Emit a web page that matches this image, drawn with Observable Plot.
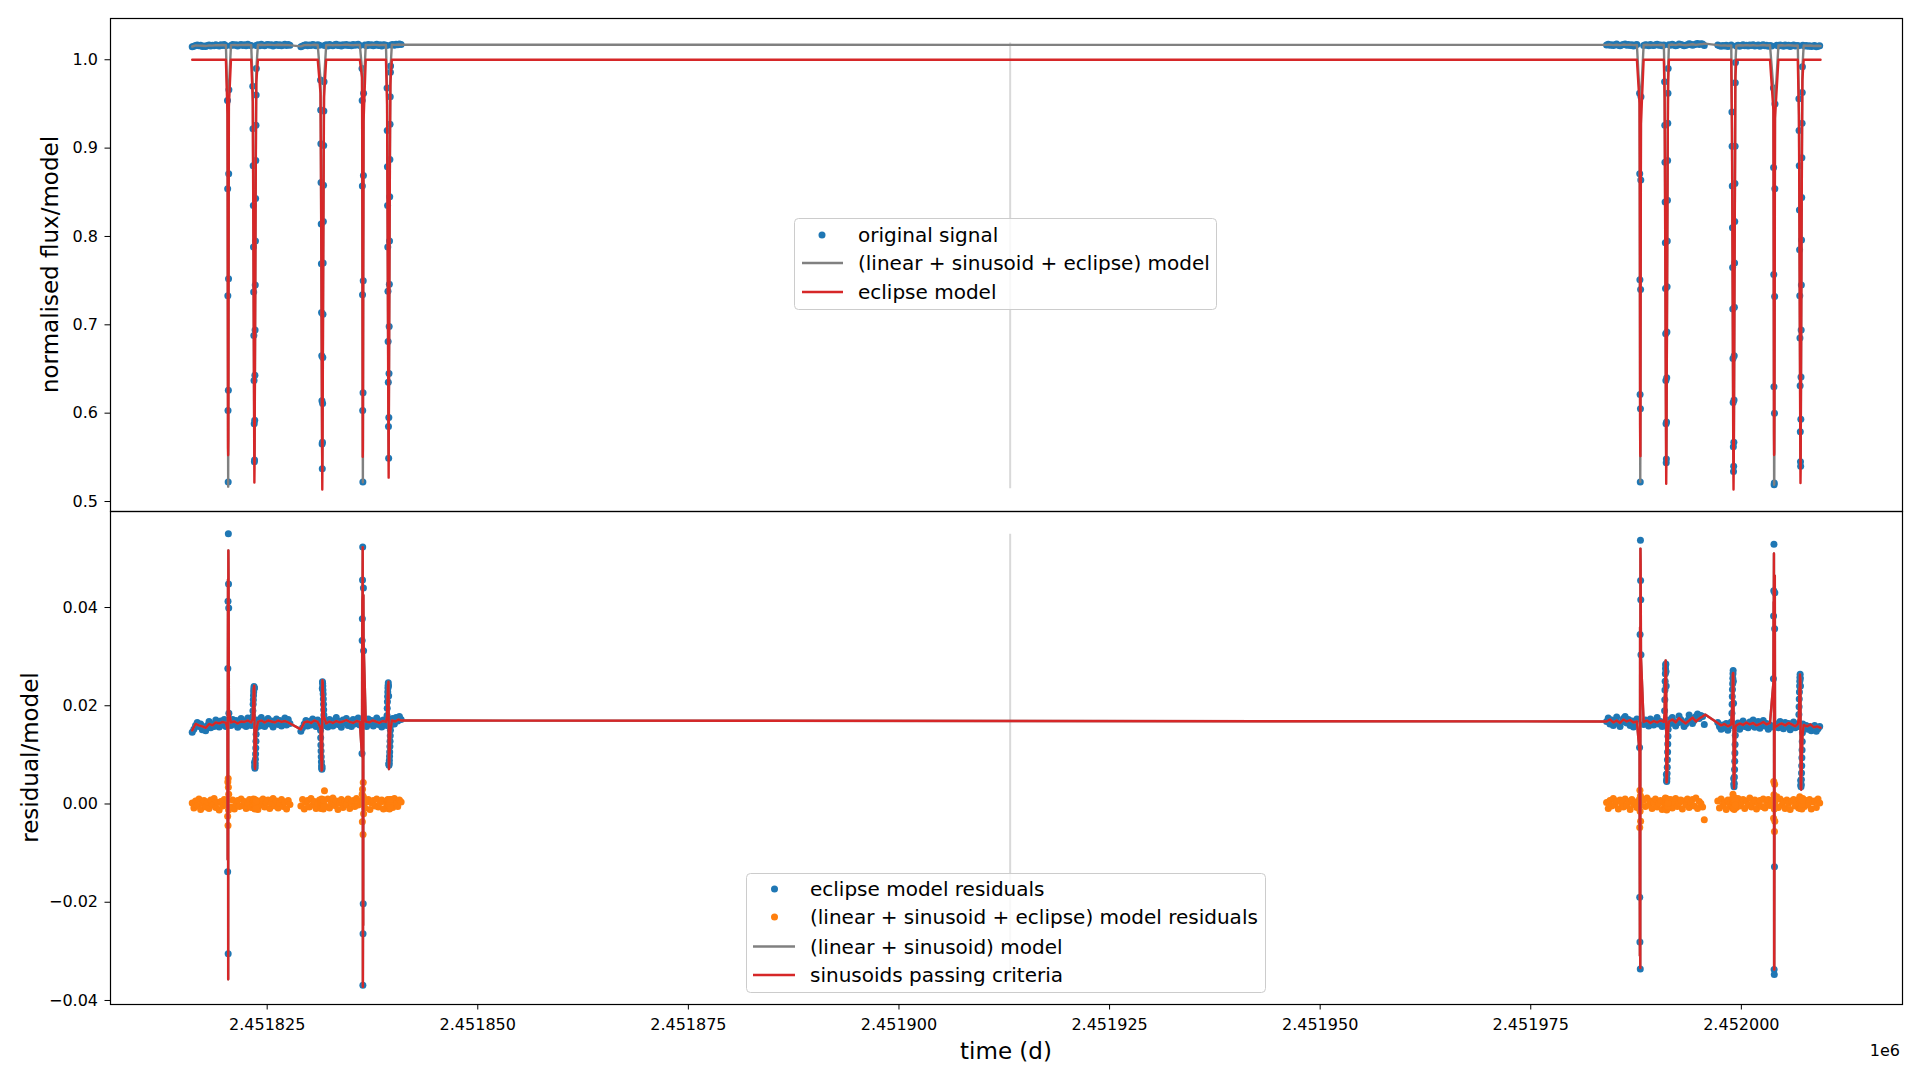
<!DOCTYPE html>
<html>
<head>
<meta charset="utf-8">
<script src="https://cdn.jsdelivr.net/npm/d3@7"></script>
<script src="https://cdn.jsdelivr.net/npm/@observablehq/plot@0.6"></script>
<style>
html, body { margin: 0; padding: 0; background: #fff; overflow: hidden; }
#wrap { position: relative; width: 1920px; height: 1080px; font-family: "DejaVu Sans", sans-serif; }
#topPanel { position: absolute; left: 0; top: 0; }
#bottomPanel { position: absolute; left: 0; top: 511px; }
#overlay { position: absolute; left: 0; top: 0; pointer-events: none; }
</style>
</head>
<body>
<div id="wrap">
  <div id="topPanel"></div>
  <div id="bottomPanel"></div>
  <svg id="overlay" width="1920" height="1080" font-family="DejaVu Sans, sans-serif"></svg>
</div>
<script>
// ---------------- DATA ----------------
const T0 = 2451800;                 // time offset (d); all times below are relative to it
const ECLIPSE_BASELINE = 1.0;       // eclipse model out of eclipse
const xTicks = [2451825, 2451850, 2451875, 2451900, 2451925, 2451950, 2451975, 2452000];
const yTicksTop = [0.5, 0.6, 0.7, 0.8, 0.9, 1.0];
const yTicksBottom = [-0.04, -0.02, 0, 0.02, 0.04];
const midTime = 2451913.2;
const topRuleSpan = [0.5145, 1.019];
const bottomRuleSpan = [-0.0363, 0.0549];

// out-of-eclipse samples: time, eclipse-model residual (blue), full-model residual (orange)
const seg1aTime = [16.1,16.3,16.5,16.7,16.9,17.1,17.3,17.5,17.7,17.9,18.1,18.3,18.5,18.7,18.9,19.1,19.3,19.5,19.7,19.9,20.1,
  20.7,20.9,21.1,21.3,21.5,21.7,21.9,22.1,22.3,22.5,22.7,22.9,23.1,
  23.7,23.9,24.1,24.3,24.5,24.7,24.9,25.1,25.3,25.5,25.7,25.9,26.1,26.3,26.5,26.7,26.9,27.1,27.3,27.5,27.7];
const seg1aBlue = [0.0146,0.0152,0.0160,0.0166,0.0158,0.0163,0.0151,0.0157,0.0149,0.0160,0.0168,0.0155,0.0163,0.0158,0.0171,0.0162,0.0157,0.0169,0.0161,0.0172,0.0158,
  0.0160,0.0172,0.0163,0.0170,0.0156,0.0166,0.0174,0.0161,0.0169,0.0158,0.0175,0.0164,0.0160,
  0.0162,0.0171,0.0159,0.0176,0.0165,0.0158,0.0170,0.0174,0.0163,0.0169,0.0157,0.0166,0.0173,0.0162,0.0170,0.0159,0.0168,0.0175,0.0161,0.0172,0.0164];
const seg1aOrange = [0.0002,-0.0008,0.0006,-0.0003,0.0010,-0.0011,0.0001,0.0007,-0.0006,0.0004,-0.0009,0.0008,-0.0002,0.0011,-0.0007,0.0003,-0.0012,0.0005,-0.0004,0.0009,-0.0001,
  -0.0006,0.0008,-0.0010,0.0002,0.0007,-0.0005,0.0010,-0.0003,0.0005,-0.0009,0.0001,0.0009,-0.0007,
  0.0004,-0.0011,0.0006,-0.0002,0.0010,-0.0006,0.0003,0.0008,-0.0009,0.0001,0.0011,-0.0004,0.0006,-0.0008,0.0002,0.0009,-0.0005,0.0004,-0.0010,0.0007,-0.0001];

const seg1bTime = [29.0,29.2,29.4,29.6,29.8,30.0,30.2,30.4,30.6,30.8,31.0,31.2,
  31.8,32.0,32.2,32.4,32.6,32.8,33.0,33.2,33.4,33.6,33.8,34.0,34.2,34.4,34.6,34.8,35.0,35.2,35.4,35.6,35.8,36.0,
  36.6,36.8,37.0,37.2,37.4,37.6,37.8,38.0,38.2,38.4,38.6,38.8,39.0,39.2,
  39.7,39.9,40.1,40.3,40.5,40.7,40.9];
const seg1bBlue = [0.0148,0.0155,0.0163,0.0170,0.0159,0.0168,0.0161,0.0173,0.0166,0.0158,0.0171,0.0163,
  0.0160,0.0169,0.0157,0.0172,0.0164,0.0159,0.0170,0.0176,0.0162,0.0168,0.0156,0.0171,0.0165,0.0174,0.0160,0.0167,0.0158,0.0172,0.0163,0.0169,0.0175,0.0161,
  0.0166,0.0158,0.0173,0.0164,0.0170,0.0159,0.0168,0.0175,0.0162,0.0169,0.0157,0.0171,0.0166,0.0160,
  0.0168,0.0174,0.0163,0.0176,0.0169,0.0178,0.0172];
const seg1bOrange = [-0.0004,0.0009,-0.0010,0.0003,0.0007,-0.0006,0.0011,-0.0002,0.0005,-0.0009,0.0001,0.0008,
  0.0027,-0.0005,0.0010,-0.0008,0.0004,0.0012,-0.0003,0.0006,-0.0011,0.0002,0.0009,-0.0007,0.0005,-0.0001,0.0010,-0.0009,0.0003,0.0007,-0.0005,0.0011,-0.0002,0.0006,
  -0.0008,0.0004,0.0009,-0.0011,0.0002,0.0007,-0.0004,0.0010,-0.0006,0.0003,0.0008,-0.0010,0.0005,-0.0002,
  0.0009,-0.0007,0.0011,0.0001,-0.0005,0.0008,0.0004];

const seg2aTime = [184.0,184.2,184.4,184.6,184.8,185.0,185.2,185.4,185.6,185.8,186.0,186.2,186.4,186.6,186.8,187.0,187.2,187.4,187.6,
  188.4,188.6,188.8,189.0,189.2,189.4,189.6,189.8,190.0,190.2,190.4,190.6,190.8,
  191.4,191.6,191.8,192.0,192.2,192.4,192.6,192.8,193.0,193.2,193.4,193.6,193.8,194.0,194.2,194.4,194.6,194.8,195.0,195.2,195.4,195.6];
const seg2aBlue = [0.0168,0.0175,0.0163,0.0171,0.0160,0.0169,0.0177,0.0164,0.0158,0.0167,0.0174,0.0178,0.0165,0.0172,0.0160,0.0169,0.0157,0.0166,0.0173,
  0.0162,0.0171,0.0167,0.0159,0.0173,0.0165,0.0161,0.0170,0.0176,0.0163,0.0168,0.0158,0.0166,
  0.0171,0.0164,0.0176,0.0168,0.0159,0.0165,0.0179,0.0172,0.0166,0.0158,0.0163,0.0170,0.0181,0.0175,0.0164,0.0170,0.0178,0.0183,0.0174,0.0180,0.0178,0.0162];
const seg2aOrange = [0.0003,-0.0009,0.0007,-0.0004,0.0011,-0.0002,0.0006,-0.0010,0.0008,0.0001,-0.0006,0.0010,-0.0003,0.0005,-0.0011,0.0009,-0.0001,0.0004,-0.0007,
  0.0008,-0.0005,0.0012,-0.0002,0.0006,-0.0009,0.0003,0.0010,-0.0006,0.0001,0.0007,-0.0011,0.0005,
  -0.0003,0.0009,-0.0008,0.0004,0.0011,-0.0005,0.0002,0.0008,-0.0010,0.0006,-0.0001,0.0010,-0.0007,0.0003,0.0009,-0.0004,0.0012,-0.0009,0.0005,0.0001,-0.0006,-0.0032];

const seg2bTime = [197.2,197.4,197.6,197.8,198.0,198.2,198.4,198.6,198.8,
  199.4,199.6,199.8,200.0,200.2,200.4,200.6,200.8,201.0,201.2,201.4,201.6,201.8,202.0,202.2,202.4,202.6,202.8,203.0,203.2,203.4,203.6,
  204.2,204.4,204.6,204.8,205.0,205.2,205.4,205.6,205.8,206.0,206.2,206.4,206.6,206.8,
  207.3,207.5,207.7,207.9,208.1,208.3,208.5,208.7,208.9,209.1,209.3];
const seg2bBlue = [0.0166,0.0158,0.0152,0.0161,0.0155,0.0164,0.0150,0.0159,0.0167,
  0.0157,0.0165,0.0152,0.0161,0.0169,0.0158,0.0163,0.0155,0.0167,0.0160,0.0171,0.0156,0.0162,0.0168,0.0154,0.0165,0.0170,0.0159,0.0164,0.0152,0.0161,0.0157,
  0.0163,0.0155,0.0168,0.0160,0.0153,0.0166,0.0158,0.0164,0.0151,0.0160,0.0167,0.0155,0.0162,0.0158,
  0.0163,0.0155,0.0160,0.0152,0.0158,0.0149,0.0156,0.0160,0.0148,0.0153,0.0158];
const seg2bOrange = [0.0006,-0.0008,0.0010,-0.0003,0.0004,-0.0011,0.0008,-0.0001,0.0005,
  -0.0007,0.0011,-0.0004,0.0002,0.0009,-0.0009,0.0006,-0.0002,0.0012,-0.0006,0.0003,0.0008,-0.0010,0.0001,0.0007,-0.0005,0.0010,-0.0008,0.0004,0.0009,-0.0003,0.0006,
  0.0015,-0.0007,0.0010,-0.0002,0.0005,-0.0009,0.0008,0.0001,-0.0011,0.0006,0.0009,-0.0004,0.0003,-0.0008,
  0.0011,-0.0005,0.0007,-0.0001,0.0009,-0.0010,0.0004,0.0006,-0.0007,0.0010,0.0002];

// (linear + sinusoid) model, out of eclipse
const modelTime = [16.1,16.5,16.9,17.3,17.7,18.1,18.5,18.9,19.3,19.7,20.1,20.7,21.1,21.5,21.9,22.3,22.7,23.1,23.9,24.3,24.7,25.1,25.5,25.9,26.3,26.7,27.1,27.5,
  29.0,29.4,29.8,30.2,30.6,31.0,32.0,32.4,32.8,33.2,33.6,34.0,34.4,34.8,35.2,35.6,36.0,36.7,37.1,37.5,37.9,38.3,38.7,39.1,39.8,40.2,40.6,40.9,
  184.0,184.4,184.8,185.2,185.6,186.0,186.4,186.8,187.2,187.6,188.4,188.8,189.2,189.6,190.0,190.4,190.8,191.4,191.8,192.2,192.6,193.0,193.4,193.8,194.2,194.6,195.0,195.4,195.7,
  197.2,197.6,198.0,198.4,198.8,199.4,199.8,200.2,200.6,201.0,201.4,201.8,202.2,202.6,203.0,203.4,204.4,204.8,205.2,205.6,206.0,206.4,206.7,207.4,207.8,208.2,208.6,209.0,209.4];
const modelValue = [0.0150,0.0163,0.0160,0.0158,0.0155,0.0163,0.0160,0.0166,0.0164,0.0167,0.0165,0.0166,0.0168,0.0164,0.0168,0.0167,0.0170,0.0166,0.0167,0.0170,0.0166,0.0170,0.0168,0.0166,0.0170,0.0167,0.0169,0.0166,
  0.0152,0.0166,0.0168,0.0165,0.0170,0.0167,0.0164,0.0168,0.0165,0.0169,0.0166,0.0168,0.0171,0.0167,0.0165,0.0169,0.0167,0.0168,0.0166,0.0170,0.0168,0.0165,0.0169,0.0167,0.0170,0.0168,0.0172,0.0170,
  0.0168,0.0172,0.0166,0.0170,0.0165,0.0172,0.0168,0.0171,0.0166,0.0168,0.0167,0.0170,0.0165,0.0169,0.0166,0.0170,0.0167,0.0168,0.0172,0.0166,0.0175,0.0169,0.0164,0.0170,0.0176,0.0168,0.0174,0.0178,0.0182,
  0.0165,0.0160,0.0163,0.0158,0.0162,0.0160,0.0164,0.0161,0.0166,0.0162,0.0165,0.0160,0.0163,0.0167,0.0162,0.0165,0.0161,0.0164,0.0160,0.0165,0.0162,0.0158,0.0163,0.0161,0.0158,0.0162,0.0156,0.0158,0.0155];

// in-eclipse samples: offsets from eclipse centre (d)
const primOffsets9 = [-0.083,-0.062,-0.042,-0.021,0,0.021,0.042,0.062,0.083];
const primOffsets10 = [-0.094,-0.073,-0.052,-0.031,-0.010,0.010,0.031,0.052,0.073,0.094];
const secOffsets = [-0.199,-0.178,-0.157,-0.136,-0.115,-0.094,-0.073,-0.052,-0.031,-0.010,0.010,0.031,0.052,0.073,0.094,0.115,0.136,0.157,0.178,0.199,0.220];

const eclP1 = {centre: 20.37, offsets: primOffsets9,
  flux: [0.954,0.854,0.733,0.603,0.522,0.626,0.752,0.871,0.966],
  blue: [0.0160,-0.0138,0.0276,0.0413,-0.0305,0.0550,0.0448,0.0399,0.0185],
  orange: [0.0008,-0.0025,0.0045,-0.0044,0.0052,0.0034,-0.0012,0.0020,-0.0006]};
const eclS1 = {centre: 23.49, offsets: secOffsets,
  flux: [0.970,0.922,0.880,0.835,0.788,0.737,0.688,0.637,0.588,0.545,0.547,0.592,0.643,0.694,0.745,0.795,0.843,0.886,0.926,0.960,0.990],
  blue: [0.0178,0.0190,0.0203,0.0212,0.0221,0.0228,0.0233,0.0239,0.0236,0.0236,0.0085,0.0078,0.0073,0.0076,0.0082,0.0091,0.0102,0.0114,0.0128,0.0142,0.0155],
  orange: [0.0004,-0.0006,0.0008,-0.0003,0.0010,-0.0008,0.0002,0.0006,-0.0005,0.0009,-0.0007,0.0003,-0.0010,0.0005,0.0001,-0.0006,0.0008,-0.0002,0.0004,-0.0009,0.0006]};
const eclS2 = {centre: 31.53, offsets: secOffsets,
  flux: [0.977,0.943,0.905,0.861,0.814,0.769,0.714,0.665,0.614,0.565,0.537,0.567,0.611,0.663,0.712,0.770,0.817,0.858,0.903,0.942,0.975],
  blue: [0.0150,0.0135,0.0120,0.0108,0.0096,0.0086,0.0078,0.0073,0.0071,0.0076,0.0235,0.0249,0.0246,0.0240,0.0232,0.0224,0.0214,0.0203,0.0192,0.0181,0.0172],
  orange: [-0.0005,0.0007,-0.0009,0.0003,0.0008,-0.0004,0.0010,-0.0007,0.0002,0.0005,0.0006,-0.0003,0.0009,-0.0008,0.0004,0.0001,-0.0010,0.0007,-0.0002,0.0008,-0.0006]};
const eclP2 = {centre: 36.35, offsets: primOffsets10,
  flux: [0.990,0.954,0.857,0.734,0.603,0.522,0.623,0.750,0.869,0.962],
  blue: [0.0103,0.0333,0.0377,0.0456,0.0523,-0.0369,-0.0264,-0.0203,0.0440,0.0312],
  orange: [0.0006,0.0020,-0.0036,0.0030,0.0000,0.0003,-0.0062,0.0044,0.0015,-0.0020]};
const eclS3 = {centre: 39.43, offsets: secOffsets,
  flux: [0.968,0.920,0.879,0.835,0.788,0.738,0.681,0.635,0.585,0.549,0.595,0.645,0.698,0.746,0.795,0.845,0.887,0.927,0.958,0.986,0.993],
  blue: [0.0180,0.0195,0.0208,0.0219,0.0228,0.0236,0.0242,0.0247,0.0240,0.0220,0.0082,0.0079,0.0083,0.0089,0.0097,0.0106,0.0117,0.0128,0.0139,0.0150,0.0160],
  orange: [0.0003,-0.0008,0.0006,-0.0002,0.0009,-0.0006,0.0001,0.0007,-0.0009,0.0004,-0.0004,0.0008,-0.0001,0.0006,-0.0010,0.0003,0.0007,-0.0005,0.0002,-0.0007,0.0009]};
const eclP3 = {centre: 188.0, offsets: primOffsets9,
  flux: [0.962,0.871,0.751,0.621,0.522,0.605,0.740,0.864,0.958],
  blue: [0.0115,-0.0190,-0.0281,0.0345,-0.0336,0.0537,0.0455,0.0416,0.0304],
  orange: [0.0010,-0.0048,0.0028,-0.0015,-0.0002,0.0017,-0.0035,0.0012,0.0006]};
const eclS4 = {centre: 191.09, offsets: secOffsets,
  flux: [0.975,0.926,0.884,0.839,0.793,0.741,0.690,0.637,0.588,0.544,0.548,0.590,0.640,0.692,0.743,0.795,0.841,0.886,0.928,0.962,0.990],
  blue: [0.0190,0.0212,0.0232,0.0250,0.0265,0.0276,0.0283,0.0285,0.0270,0.0240,0.0060,0.0048,0.0046,0.0052,0.0062,0.0075,0.0090,0.0106,0.0122,0.0138,0.0152],
  orange: [0.0005,-0.0007,0.0009,-0.0004,0.0012,0.0002,-0.0009,0.0011,-0.0003,0.0006,-0.0008,0.0004,-0.0012,0.0007,-0.0002,0.0010,-0.0006,0.0003,0.0008,-0.0005,0.0001]};
const eclS5 = {centre: 199.08, offsets: secOffsets,
  flux: [0.941,0.902,0.857,0.810,0.765,0.718,0.662,0.612,0.562,0.534,0.540,0.567,0.615,0.665,0.720,0.770,0.817,0.860,0.902,0.974,0.997],
  blue: [0.0185,0.0203,0.0219,0.0233,0.0245,0.0256,0.0265,0.0272,0.0250,0.0205,0.0052,0.0040,0.0035,0.0042,0.0055,0.0070,0.0087,0.0104,0.0121,0.0140,0.0155],
  orange: [-0.0006,0.0008,-0.0003,0.0011,0.0004,-0.0009,0.0020,0.0005,-0.0007,0.0002,0.0009,-0.0005,0.0003,-0.0011,0.0007,0.0001,-0.0008,0.0012,-0.0004,0.0006,-0.0002]};
const eclP4 = {centre: 203.9, offsets: primOffsets10,
  flux: [0.968,0.878,0.757,0.630,0.519,0.521,0.600,0.732,0.854,0.950],
  blue: [0.0255,0.0383,0.0434,0.0529,-0.0337,-0.0347,-0.0128,0.0357,0.0430,0.0160],
  orange: [0.0008,-0.0029,0.0046,0.0019,0.0000,-0.0010,-0.0056,0.0040,-0.0035,0.0004]};
const eclS6 = {centre: 207.03, offsets: secOffsets,
  flux: [0.956,0.920,0.880,0.830,0.785,0.733,0.685,0.631,0.579,0.545,0.540,0.593,0.641,0.694,0.745,0.796,0.844,0.889,0.928,0.963,0.992],
  blue: [0.0182,0.0198,0.0214,0.0228,0.0240,0.0250,0.0258,0.0264,0.0255,0.0240,0.0048,0.0038,0.0035,0.0040,0.0050,0.0063,0.0078,0.0094,0.0110,0.0127,0.0145],
  orange: [0.0007,-0.0004,0.0010,-0.0008,0.0003,0.0015,-0.0006,0.0009,-0.0002,0.0005,-0.0009,0.0006,-0.0003,0.0011,-0.0007,0.0002,0.0008,-0.0010,0.0004,-0.0001,0.0007]};

// ---------------- TABLES ----------------
const segments = [[seg1aTime, seg1aBlue, seg1aOrange], [seg1bTime, seg1bBlue, seg1bOrange],
                  [seg2aTime, seg2aBlue, seg2aOrange], [seg2bTime, seg2bBlue, seg2bOrange]];
const baseRows = segments.flatMap(([tt, bb, oo]) => tt.map((t, i) => ({t: T0 + t, b: bb[i], o: oo[i]})));
const eclipses = [eclP1, eclS1, eclS2, eclP2, eclS3, eclP3, eclS4, eclS5, eclP4, eclS6];
const eclRows = eclipses.flatMap(E => E.flux.map((f, i) => {
  const b = E.blue[i], o = E.orange[i];
  return {t: T0 + E.centre + E.offsets[i], f, b, o, e: f - b, m: b - o};
}));
const topDots = [...baseRows.map(d => ({t: d.t, y: ECLIPSE_BASELINE + d.b})), ...eclRows.map(d => ({t: d.t, y: d.f}))];
const allRes = [...baseRows, ...eclRows];
const blueDots = allRes.map(d => ({t: d.t, y: d.b}));
const orangeDots = allRes.map(d => ({t: d.t, y: d.o}));
const modelRows = [
  ...modelTime.map((t, i) => ({t: T0 + t, m: modelValue[i], e: ECLIPSE_BASELINE})),
  ...eclRows.map(d => ({t: d.t, m: d.m, e: d.e}))
].sort((a, b) => a.t - b.t);
const topGrey = modelRows.map(d => ({t: d.t, y: d.e + d.m}));
const topRed = modelRows.map(d => ({t: d.t, y: d.e}));
const botLine = modelRows.map(d => ({t: d.t, y: d.m}));

// ---------------- STYLE ----------------
const BLUE = "#1f77b4", ORANGE = "#ff7f0e", GREY = "#808080", RED = "#d62728";
const xDomain = [2451806.40, 2452019.13];
const fmtX = d => (d / 1e6).toFixed(6);
const baseStyle = {fontFamily: "'DejaVu Sans', sans-serif", fontSize: "16px", color: "#000", background: "transparent", overflow: "visible"};
const DOT_R = 3.5;

const topChart = Plot.plot({
  width: 1920, height: 511,
  marginLeft: 110, marginRight: 18, marginTop: 18, marginBottom: 0,
  style: baseStyle,
  x: {domain: xDomain, axis: null},
  y: {domain: [0.4887, 1.0467], ticks: yTicksTop, tickFormat: d3.format(".1f"), tickSize: 5.5, tickPadding: 7, label: null},
  marks: [
    Plot.ruleX([midTime], {y1: topRuleSpan[0], y2: topRuleSpan[1], stroke: "#d9d9d9", strokeWidth: 2}),
    Plot.dot(topDots, {x: "t", y: "y", r: DOT_R, fill: BLUE, stroke: "none"}),
    Plot.line(topGrey, {x: "t", y: "y", stroke: GREY, strokeWidth: 2.4}),
    Plot.line(topRed, {x: "t", y: "y", stroke: RED, strokeWidth: 2.4}),
    Plot.frame({stroke: "#000", strokeWidth: 1.2})
  ]
});
document.getElementById("topPanel").appendChild(topChart);

const bottomChart = Plot.plot({
  width: 1920, height: 569,
  marginLeft: 110, marginRight: 18, marginTop: 0, marginBottom: 76,
  style: baseStyle,
  x: {domain: xDomain, ticks: xTicks, tickFormat: fmtX, tickSize: 5.5, tickPadding: 9, label: null},
  y: {domain: [-0.04082, 0.05955], ticks: yTicksBottom, tickFormat: d3.format(".2f"), tickSize: 5.5, tickPadding: 7, label: null},
  marks: [
    Plot.ruleX([midTime], {y1: bottomRuleSpan[0], y2: bottomRuleSpan[1], stroke: "#d9d9d9", strokeWidth: 2}),
    Plot.dot(blueDots, {x: "t", y: "y", r: DOT_R, fill: BLUE, stroke: "none"}),
    Plot.dot(orangeDots, {x: "t", y: "y", r: DOT_R, fill: ORANGE, stroke: "none"}),
    Plot.line(botLine, {x: "t", y: "y", stroke: GREY, strokeWidth: 2.4}),
    Plot.line(botLine, {x: "t", y: "y", stroke: RED, strokeWidth: 2.4}),
    Plot.frame({stroke: "#000", strokeWidth: 1.2})
  ]
});
document.getElementById("bottomPanel").appendChild(bottomChart);

// ---------------- LABELS & LEGENDS ----------------
const ov = d3.select("#overlay");
ov.append("text").attr("transform", "translate(50,264.5) rotate(-90)").attr("text-anchor", "middle")
  .attr("dy", "0.35em").attr("font-size", 23).text("normalised flux/model");
ov.append("text").attr("transform", "translate(30,757.5) rotate(-90)").attr("text-anchor", "middle")
  .attr("dy", "0.35em").attr("font-size", 23).text("residual/model");
ov.append("text").attr("x", 1006).attr("y", 1051).attr("text-anchor", "middle").attr("dy", "0.35em")
  .attr("font-size", 23).text("time (d)");
ov.append("text").attr("x", 1900).attr("y", 1056).attr("text-anchor", "end").attr("font-size", 16).text("1e6");

function legend(box, rows, markX, lineX, textX) {
  const g = ov.append("g");
  g.append("rect").attr("x", box[0]).attr("y", box[1]).attr("width", box[2]).attr("height", box[3])
    .attr("rx", 4).attr("fill", "rgba(255,255,255,0.8)").attr("stroke", "#cccccc").attr("stroke-width", 1);
  rows.forEach(r => {
    if (r.kind === "dot") {
      g.append("circle").attr("cx", markX).attr("cy", r.y).attr("r", DOT_R).attr("fill", r.color);
    } else {
      g.append("line").attr("x1", lineX[0]).attr("x2", lineX[1]).attr("y1", r.y).attr("y2", r.y)
        .attr("stroke", r.color).attr("stroke-width", 2.4);
    }
    g.append("text").attr("x", textX).attr("y", r.y).attr("dy", "0.35em").attr("font-size", 20).text(r.label);
  });
}
legend([794.5, 218.5, 422, 91], [
  {kind: "dot", color: BLUE, y: 235, label: "original signal"},
  {kind: "line", color: GREY, y: 263, label: "(linear + sinusoid + eclipse) model"},
  {kind: "line", color: RED, y: 292, label: "eclipse model"}
], 822, [802, 843], 858);
legend([746.5, 873.5, 519, 119], [
  {kind: "dot", color: BLUE, y: 889, label: "eclipse model residuals"},
  {kind: "dot", color: ORANGE, y: 917, label: "(linear + sinusoid + eclipse) model residuals"},
  {kind: "line", color: GREY, y: 946.5, label: "(linear + sinusoid) model"},
  {kind: "line", color: RED, y: 975, label: "sinusoids passing criteria"}
], 774.5, [753, 795], 810);
</script>
</body>
</html>
